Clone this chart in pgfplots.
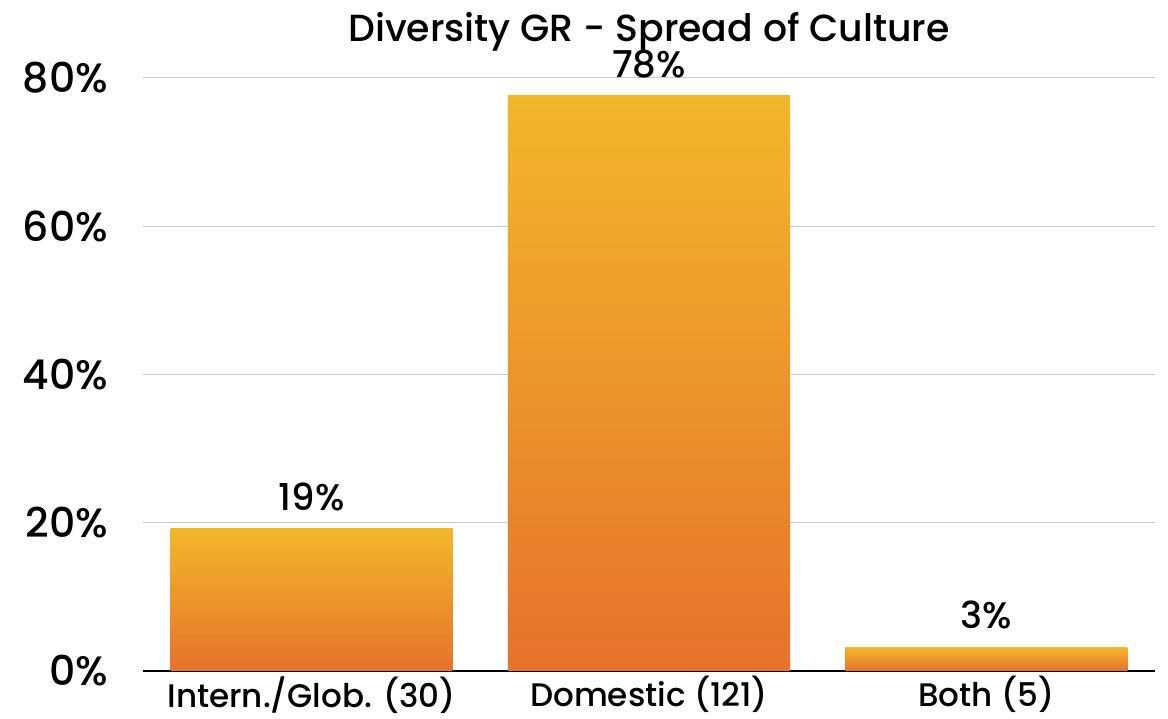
\documentclass[border=0pt]{standalone}
\usepackage{pgfplots}
\pgfplotsset{compat=1.18}
\usepackage{fontspec}
\setmainfont{Poppins Medium}
\definecolor{bartop}{HTML}{F2B72A}
\definecolor{barbot}{HTML}{E6722B}
\definecolor{gridc}{HTML}{C8C8C8}
\begin{document}
\begin{tikzpicture}
\begin{axis}[
  at={(0,0)}, anchor=south west,
  scale only axis,
  width=506pt, height=296.5pt,
  xmin=-0.5, xmax=2.5,
  ymin=0, ymax=80,
  ytick={0,20,40,60,80},
  yticklabel={\pgfmathprintnumber{\tick}\%},
  /pgf/number format/assume math mode=true,
  yticklabel style={font=\fontsize{20.5}{22}\selectfont, xshift=-14pt},
  xtick={0,1,2},
  xticklabels={Intern./Glob. (30),Domestic (121),Both (5)},
  xticklabel style={font=\fontsize{16.3}{18}\selectfont, inner sep=0pt, yshift=-2.5pt},
  major tick length=0pt,
  axis x line*=bottom,
  axis y line*=left,
  y axis line style={draw=none},
  x axis line style={line width=1pt, -},
  ymajorgrids,
  grid style={gridc, line width=0.5pt},
  ybar, bar width=141pt, bar shift=0pt,
  nodes near coords={\pgfmathprintnumber[fixed,precision=0]{\pgfplotspointmeta}\%},
  nodes near coords style={font=\fontsize{18.5}{20}\selectfont, black, yshift=5.5pt},
  title={Diversity GR - Spread of Culture},
  title style={font=\fontsize{18.9}{20}\selectfont, yshift=4pt},
  clip=false,
]
\addplot[draw=none, top color=bartop, bottom color=barbot] coordinates {(0,19.2)};
\addplot[draw=none, top color=bartop, bottom color=barbot] coordinates {(1,77.6)};
\addplot[draw=none, top color=bartop, bottom color=barbot] coordinates {(2,3.2)};
\end{axis}
\pgfresetboundingbox
\useasboundingbox (-71.5pt,-23.5pt) rectangle (512.5pt,335.5pt);
\end{tikzpicture}
\end{document}
